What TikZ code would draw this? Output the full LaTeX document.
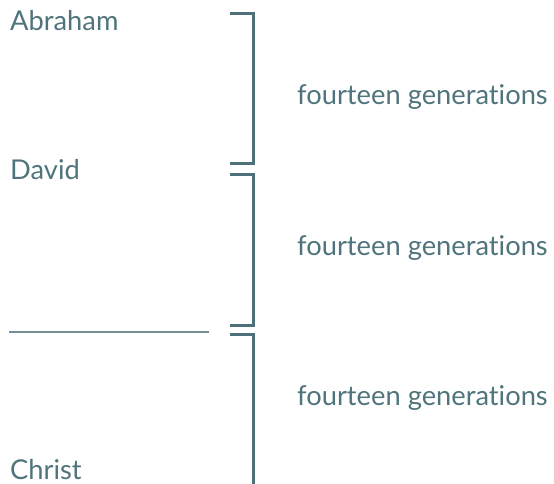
\documentclass[tikz,border=0pt]{standalone}
\usepackage{fontspec}
\setmainfont{Lato}[Ligatures={NoCommon}]
\definecolor{teal}{RGB}{80,116,124}
\definecolor{tealline}{RGB}{78,112,120}
\begin{document}
\begin{tikzpicture}[x=1pt,y=-1pt,
  lbl/.style={anchor=base west,inner sep=0pt,text=teal,font=\fontsize{27.3}{32}\selectfont},
  brk/.style={draw=tealline,line width=2.7pt,line cap=butt,line join=miter}]
\useasboundingbox (0,0) rectangle (554,484);
\node[lbl] (abraham) at (10,31) {Abraham};
\node[lbl] (david) at (10,179) {David};
\node[lbl] (christ) at (10,479) {Christ};
\node[lbl] (g1) at (297,105) {fourteen generations};
\node[lbl] (g2) at (297,255) {fourteen generations};
\node[lbl] (g3) at (297,405) {fourteen generations};
\coordinate (ulA) at (9,332);
\coordinate (ulB) at (209,332);
\draw[teal!80,line width=1.2pt] (ulA) -- (ulB);
\draw[brk] (230,13.5) -- (253.5,13.5) -- (253.5,163.5) -- (230,163.5);
\draw[brk] (230,174.5) -- (253.5,174.5) -- (253.5,325.5) -- (230,325.5);
\draw[brk] (230,334.5) -- (253.5,334.5) -- (253.5,484);
\end{tikzpicture}
\end{document}
